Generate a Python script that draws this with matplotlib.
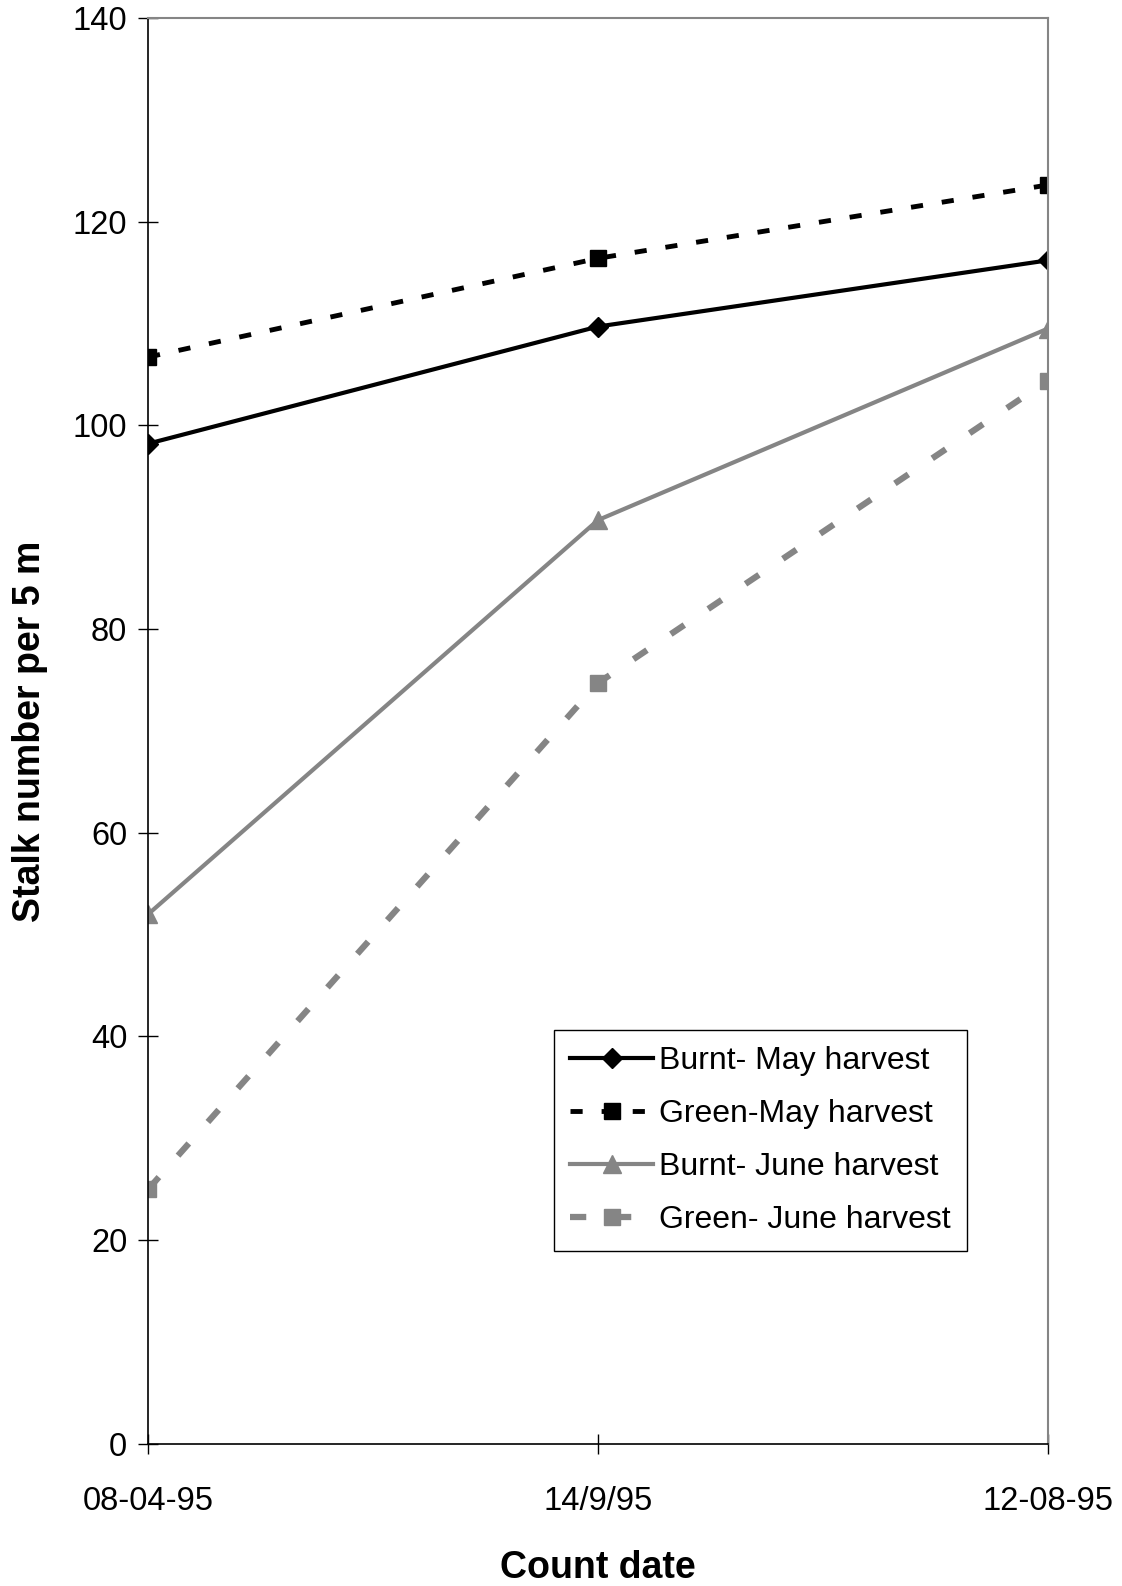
import matplotlib.pyplot as plt

plt.rcParams['font.family'] = ['Liberation Sans', 'DejaVu Sans']

dates = ['08-04-95', '14/9/95', '12-08-95']
burnt_may = [98.2, 109.7, 116.2]
green_may = [106.7, 116.4, 123.6]
burnt_june = [52.0, 90.7, 109.5]
green_june = [25.0, 74.7, 104.4]

grey = '#858585'

fig = plt.figure(figsize=(11.22, 15.86), dpi=100)
ax = fig.add_axes([0.132, 0.0896, 0.802, 0.8991])

x = range(len(dates))
ax.plot(x, burnt_may, color='black', lw=3, marker='D', ms=10.5,
        label='Burnt- May harvest')
ax.plot(x, green_may, color='black', lw=3.5, ls=(0, (2.5, 3.9)), marker='s', ms=11,
        label='Green-May harvest')
ax.plot(x, burnt_june, color=grey, lw=3, marker='^', ms=12.5,
        label='Burnt- June harvest')
ax.plot(x, green_june, color=grey, lw=4.5, ls=(0, (2.6, 4.6)), marker='s', ms=11,
        label='Green- June harvest')

ax.set_xlim(0, 2)
ax.set_ylim(0, 140)
ax.set_yticks(range(0, 141, 20))
ax.set_xticks(list(x))
ax.set_xticklabels(dates)
ax.tick_params(axis='both', direction='inout', length=14, width=1, labelsize=23.5)
ax.tick_params(axis='x', pad=23)
ax.tick_params(axis='y', pad=8)

for s in ['top', 'right']:
    ax.spines[s].set_color(grey)
    ax.spines[s].set_linewidth(1.5)
for s in ['left', 'bottom']:
    ax.spines[s].set_color('black')
    ax.spines[s].set_linewidth(1.2)

ax.set_xlabel('Count date', fontsize=27, fontweight='bold', va='center')
ax.xaxis.set_label_coords(0.5, -0.087)
ax.set_ylabel('Stalk number per 5 m', fontsize=27, fontweight='bold', va='center')
ax.yaxis.set_label_coords(-0.131, 0.5)

leg = ax.legend(loc='upper left', bbox_to_anchor=(554 / 1122, 1 - 1030 / 1586),
                bbox_transform=fig.transFigure, borderaxespad=0, fontsize=23,
                fancybox=False, framealpha=1, edgecolor='black',
                handlelength=2.6, handletextpad=0.2, labelspacing=0.72,
                borderpad=0.5)
leg.get_frame().set_linewidth(1)

fig.savefig('out.png', dpi=100)
